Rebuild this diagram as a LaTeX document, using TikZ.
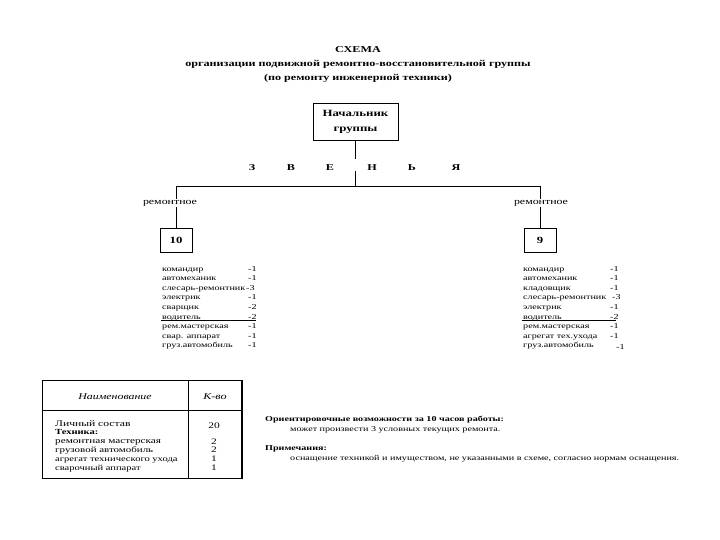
\documentclass[tikz,border=0pt]{standalone}
\usepackage{fontspec}
\setmainfont{Liberation Serif}[FakeStretch=1.35]
\begin{document}
\begin{tikzpicture}[x=1pt,y=-1pt,
  every node/.style={inner sep=0pt},
  ttl/.style={font=\bfseries\fontsize{9}{11}\selectfont},
  lst/.style={anchor=base west,font=\fontsize{7.5}{9}\selectfont},
  lstv/.style={anchor=base west,font=\fontsize{7.5}{9}\selectfont},
  tbl/.style={anchor=base west,font=\fontsize{7.8}{9}\selectfont},
  letter/.style={font=\bfseries\fontsize{9}{10}\selectfont},
  orgbox/.style={draw,line width=0.8pt,align=center},
  wire/.style={line width=0.7pt},
  tline/.style={line width=0.7pt}]
\useasboundingbox (0,0) rectangle (720,540);
% title
\node[ttl] (t1) at (358,50) {СХЕМА};
\node[ttl] (t2) at (358,64) {организации подвижной ремонтно-восстановительной группы};
\node[ttl] (t3) at (358,78) {(по ремонту инженерной техники)};
% chief
\node[orgbox,minimum width=85pt,minimum height=37pt,font=\bfseries\fontsize{9.5}{15}\selectfont] (chief) at (355.5,121.5) {Начальник\\группы};
\node[letter] (z1) at (252,168) {З};
\node[letter] (z2) at (291,168) {В};
\node[letter] (z3) at (330,168) {Е};
\node[letter] (z4) at (372,168) {Н};
\node[letter] (z5) at (412,168) {Ь};
\node[letter] (z6) at (456,168) {Я};
\coordinate (gapt) at (355.5,159);
\coordinate (gapb) at (355.5,171);
\coordinate (mid) at (355.5,186);
\coordinate (hl) at (176,186);
\coordinate (hr) at (540,186);
\node[orgbox,minimum width=32pt,minimum height=24pt,font=\bfseries\fontsize{9.5}{11}\selectfont] (b10) at (176,240) {10};
\node[orgbox,minimum width=32pt,minimum height=24pt,font=\bfseries\fontsize{9.5}{11}\selectfont] (b9) at (540,240) {9};
\draw[wire] (chief.south) -- (gapt);
\draw[wire] (gapb) -- (mid);
\draw[wire] (hl) -- (hr);
\draw[wire] (hl) -- (b10.north);
\draw[wire] (hr) -- (b9.north);
\node[fill=white,inner sep=1pt,font=\fontsize{8.8}{9}\selectfont] (r1) at (170,203) {ремонтное};
\node[fill=white,inner sep=1pt,font=\fontsize{8.8}{9}\selectfont] (r2) at (541,203) {ремонтное};
% left list
\node[lst] (a1) at (162,271) {командир};
\node[lst] (a2) at (162,280.6) {автомеханик};
\node[lst] (a3) at (162,290.2) {слесарь-ремонтник};
\node[lst] (a4) at (162,299.8) {электрик};
\node[lst] (a5) at (162,309.4) {сварщик};
\node[lst] (a6) at (162,319) {водитель};
\node[lst] (a7) at (162,328.6) {рем.мастерская};
\node[lst] (a8) at (162,338.2) {свар. аппарат};
\node[lst] (a9) at (162,347.8) {груз.автомобиль};
\node[lstv] (av1) at (248,271) {-1};
\node[lstv] (av2) at (248,280.6) {-1};
\node[lstv] (av3) at (246,290.2) {-3};
\node[lstv] (av4) at (248,299.8) {-1};
\node[lstv] (av5) at (248,309.4) {-2};
\node[lstv] (av6) at (248,319) {-2};
\node[lstv] (av7) at (248,328.6) {-1};
\node[lstv] (av8) at (248,338.2) {-1};
\node[lstv] (av9) at (248,347.8) {-1};
\draw[line width=0.7pt] (161,320.5) -- (256,320.5);
% right list
\node[lst] (c1) at (523,271) {командир};
\node[lst] (c2) at (523,280.6) {автомеханик};
\node[lst] (c3) at (523,290.2) {кладовщик};
\node[lst] (c4) at (523,299.8) {слесарь-ремонтник};
\node[lst] (c5) at (523,309.4) {электрик};
\node[lst] (c6) at (523,319) {водитель};
\node[lst] (c7) at (523,328.6) {рем.мастерская};
\node[lst] (c8) at (523,338.2) {агрегат тех.ухода};
\node[lst] (c9) at (523,347.8) {груз.автомобиль};
\node[lstv] (cv1) at (610,271) {-1};
\node[lstv] (cv2) at (610,280.6) {-1};
\node[lstv] (cv3) at (610,290.2) {-1};
\node[lstv] (cv4) at (612,299.8) {-3};
\node[lstv] (cv5) at (610,309.4) {-1};
\node[lstv] (cv6) at (610,319) {-2};
\node[lstv] (cv7) at (610,328.6) {-1};
\node[lstv] (cv8) at (610,338.2) {-1};
\node[lstv] (cv9) at (616,349) {-1};
\draw[line width=1.2pt] (522,320.5) -- (616,320.5);
% table
\draw[tline] (42,380) rectangle (242,478);
\draw[line width=1.2pt] (242,380) -- (242,478);
\draw[tline] (42,410) -- (242,410);
\draw[tline] (188,380) -- (188,478);
\node[font=\itshape\fontsize{8.8}{9}\selectfont] (h1) at (115,397) {Наименование};
\node[font=\itshape\fontsize{9}{9}\selectfont] (h2) at (215,397) {К-во};
\node[tbl,font=\fontsize{8.6}{9}\selectfont] (p1) at (55,426) {Личный состав};
\node[tbl,font=\bfseries\fontsize{7.8}{9}\selectfont] (p2) at (55,434.5) {Техника:};
\node[tbl,font=\fontsize{8.3}{9}\selectfont] (p3) at (55,443) {ремонтная мастерская};
\node[tbl,font=\fontsize{8.1}{9}\selectfont] (p4) at (55,452) {грузовой автомобиль};
\node[tbl] (p5) at (55,461) {агрегат технического ухода};
\node[tbl] (p6) at (55,470) {сварочный аппарат};
\node[font=\fontsize{8.5}{9}\selectfont,anchor=base] (q1) at (214,428) {20};
\node[font=\fontsize{8.5}{9}\selectfont,anchor=base] (q3) at (214,444) {2};
\node[font=\fontsize{8.5}{9}\selectfont,anchor=base] (q4) at (214,452) {2};
\node[font=\fontsize{8.5}{9}\selectfont,anchor=base] (q5) at (214,461) {1};
\node[font=\fontsize{8.5}{9}\selectfont,anchor=base] (q6) at (214,470) {1};
% notes
\node[anchor=base west,font=\bfseries\fontsize{7.5}{9}\selectfont] (n1) at (265,421) {Ориентировочные возможности за 10 часов работы:};
\node[anchor=base west,font=\fontsize{7.5}{9}\selectfont] (n2) at (290,431) {может произвести 3 условных текущих ремонта.};
\node[anchor=base west,font=\bfseries\fontsize{7.5}{9}\selectfont] (n3) at (265,450) {Примечания:};
\node[anchor=base west,font=\fontsize{7.5}{9}\selectfont] (n4) at (290,460) {оснащение техникой и имуществом, не указанными в схеме, согласно нормам оснащения.};
\end{tikzpicture}
\end{document}
